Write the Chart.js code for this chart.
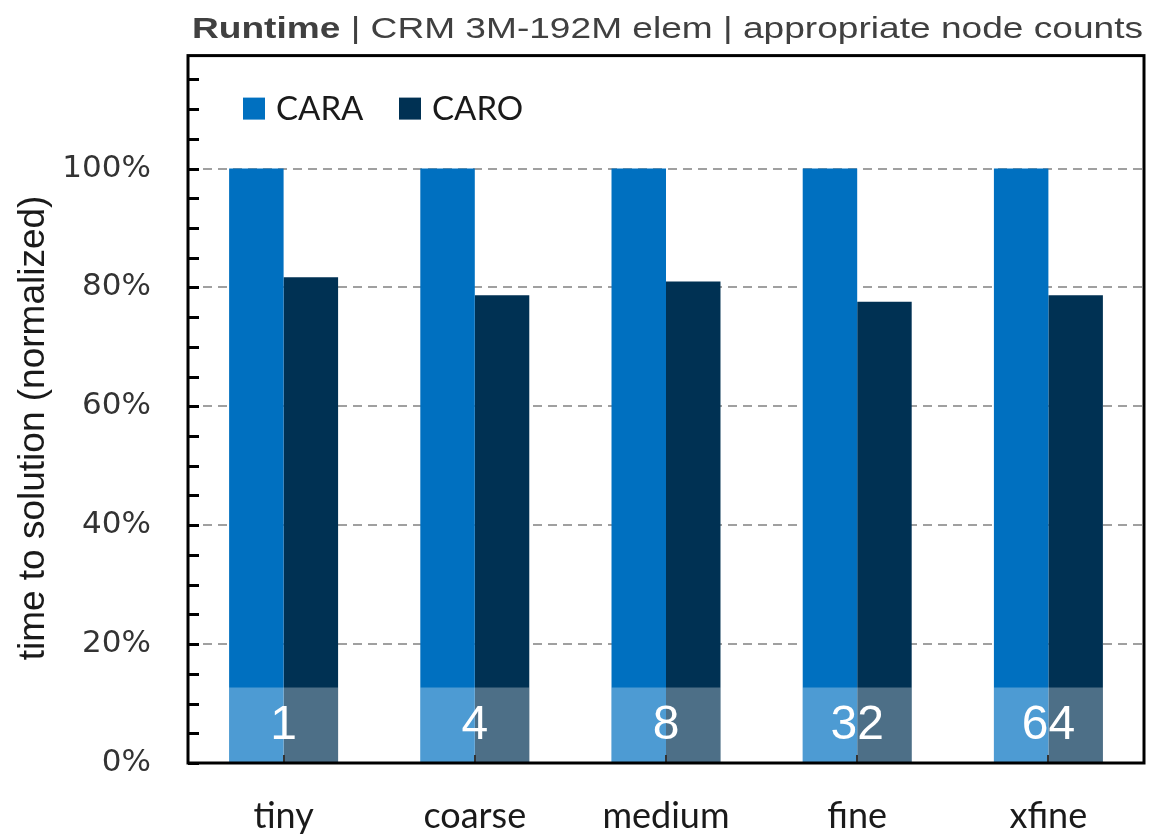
<!DOCTYPE html>
<html>
<head>
<meta charset="utf-8">
<script src="https://cdn.jsdelivr.net/npm/chart.js@4/dist/chart.umd.min.js"></script>
<style>
  html, body { margin: 0; padding: 0; background: #fff; }
  #wrap { width: 1149px; height: 839px; }
</style>
</head>
<body>
<div id="wrap"><canvas id="c" width="1149" height="839"></canvas></div>
<script>
const categories = ["tiny", "coarse", "medium", "fine", "xfine"];
const caraValues = [100, 100, 100, 100, 100];
const caroValues = [81.7, 78.7, 81.0, 77.6, 78.7];
const nodeCounts = ["1", "4", "8", "32", "64"];
const nodeBandTop = 12.7;
const yTickStep = 5;
const yMax = 119;

const CARA_COLOR = "#0070C0";
const CARO_COLOR = "#003153";
const ARIAL = "'Liberation Sans', Arial, sans-serif";

// band with node counts, legend, frame, inward ticks, titles
const extras = {
  id: "extras",
  afterDatasetsDraw(chart) {
    const ctx = chart.ctx;
    const y = chart.scales.y;
    const m0 = chart.getDatasetMeta(0).data;
    const m1 = chart.getDatasetMeta(1).data;
    const yTop = y.getPixelForValue(nodeBandTop);
    const yBot = y.getPixelForValue(0);
    ctx.save();
    m0.forEach((b0, i) => {
      const b1 = m1[i];
      const x0 = b0.x - b0.width / 2;
      const x1 = b1.x + b1.width / 2;
      ctx.fillStyle = "rgba(255,255,255,0.3)";
      ctx.fillRect(x0, yTop, x1 - x0, yBot - yTop);
      ctx.fillStyle = "#fff";
      ctx.font = "48px " + ARIAL;
      ctx.textAlign = "center";
      ctx.textBaseline = "middle";
      ctx.fillText(nodeCounts[i], (x0 + x1) / 2, (yTop + yBot) / 2 + 1);
    });
    ctx.restore();
  },
  afterDraw(chart) {
    const ctx = chart.ctx;
    const a = chart.chartArea;
    const y = chart.scales.y;
    const x = chart.scales.x;
    ctx.save();
    // inward y ticks
    ctx.strokeStyle = "#000";
    ctx.lineWidth = 3;
    for (let v = 0; v <= yMax; v += yTickStep) {
      const py = Math.round(y.getPixelForValue(v)) + 0.5;
      ctx.beginPath();
      ctx.moveTo(a.left, py);
      ctx.lineTo(a.left + 11, py);
      ctx.stroke();
    }
    // small x ticks at category centres
    ctx.strokeStyle = "#333";
    ctx.lineWidth = 2;
    categories.forEach((c, i) => {
      const px = Math.round(x.getPixelForValue(i));
      ctx.beginPath();
      ctx.moveTo(px, a.bottom);
      ctx.lineTo(px, a.bottom - 8);
      ctx.stroke();
    });
    // frame
    ctx.strokeStyle = "#000";
    ctx.lineWidth = 3;
    ctx.strokeRect(a.left, a.top, a.right - a.left, a.bottom - a.top);
    // legend
    ctx.font = "33px Lato, 'Open Sans', sans-serif";
    ctx.textBaseline = "middle";
    ctx.textAlign = "left";
    let lx = a.left + 55;
    const ly = a.top + 42;
    chart.data.datasets.forEach(ds => {
      ctx.fillStyle = ds.backgroundColor;
      ctx.fillRect(lx, ly, 22, 22);
      ctx.fillStyle = "#1a1a1a";
      ctx.fillText(ds.label, lx + 33, ly + 12);
      lx += 156;
    });
    // y axis title
    ctx.save();
    ctx.translate(34, 428);
    ctx.rotate(-Math.PI / 2);
    ctx.font = "37px " + ARIAL;
    ctx.fillStyle = "#1a1a1a";
    ctx.textAlign = "center";
    ctx.textBaseline = "middle";
    ctx.fillText("time to solution (normalized)", 0, 0);
    ctx.restore();
    // chart title, stretched to the reference width
    const bold = "Runtime";
    const rest = " | CRM 3M-192M elem | appropriate node counts";
    ctx.textBaseline = "alphabetic";
    ctx.textAlign = "left";
    ctx.font = "bold 30px " + ARIAL;
    const wb = ctx.measureText(bold).width;
    ctx.font = "30px " + ARIAL;
    const wr = ctx.measureText(rest).width;
    const sx = 951 / (wb + wr);
    ctx.translate(192, 38);
    ctx.scale(sx, 1);
    ctx.fillStyle = "#404040";
    ctx.font = "bold 30px " + ARIAL;
    ctx.fillText(bold, 0, 0);
    ctx.font = "30px " + ARIAL;
    ctx.fillText(rest, wb, 0);
    ctx.restore();
  }
};

new Chart(document.getElementById("c"), {
  type: "bar",
  data: {
    labels: categories,
    datasets: [
      { label: "CARA", data: caraValues, backgroundColor: CARA_COLOR,
        categoryPercentage: 0.57, barPercentage: 1.0 },
      { label: "CARO", data: caroValues, backgroundColor: CARO_COLOR,
        categoryPercentage: 0.57, barPercentage: 1.0 }
    ]
  },
  options: {
    responsive: false,
    animation: false,
    layout: { padding: { top: 54, right: 5, left: 0, bottom: 0 } },
    plugins: {
      legend: { display: false },
      title: { display: false },
      tooltip: { enabled: false }
    },
    scales: {
      x: {
        grid: { display: false, drawTicks: false },
        border: { display: false },
        ticks: {
          color: "#1a1a1a",
          padding: 32,
          font: { family: "Lato, 'Open Sans', sans-serif", size: 36 }
        },
        afterFit(s) { s.height = 76; }
      },
      y: {
        min: 0,
        max: yMax,
        grid: {
          drawTicks: false,
          color: ctx => {
            const v = ctx.tick ? ctx.tick.value : null;
            return v !== null && v > 0 && v <= 100 && v % 20 === 0 ? "#a0a0a0" : "rgba(0,0,0,0)";
          },
          lineWidth: 2
        },
        border: { display: false, dash: [9, 6] },
        ticks: {
          stepSize: yTickStep,
          autoSkip: false,
          padding: 37,
          color: "#333",
          font: { family: "'DejaVu Sans', Verdana, sans-serif", size: 31 },
          callback: v => (v % 20 === 0 ? v + "%" : "")
        },
        afterFit(s) { s.width = 188; }
      }
    }
  },
  plugins: [extras]
});
</script>
</body>
</html>
